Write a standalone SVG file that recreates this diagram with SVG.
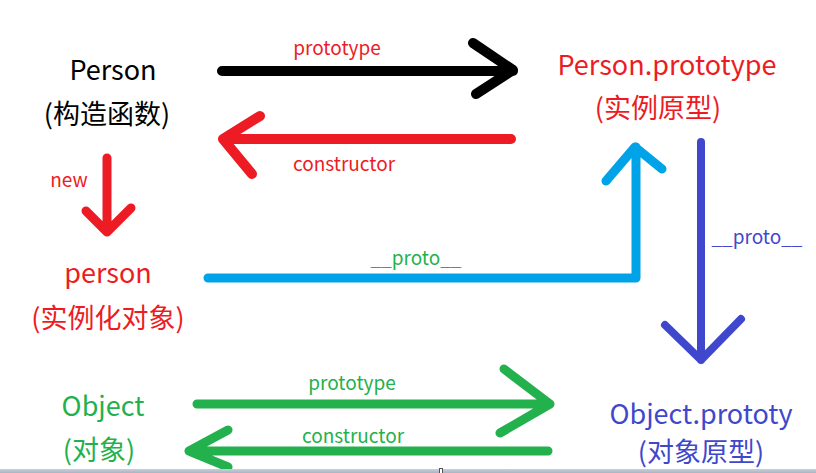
<svg xmlns="http://www.w3.org/2000/svg" width="816" height="473" viewBox="0 0 816 473">
<defs>
<linearGradient id="bar" x1="0" y1="0" x2="0" y2="1">
<stop offset="0" stop-color="#c9d0dc"/>
<stop offset="1" stop-color="#aab3c4"/>
</linearGradient>
</defs>
<style>
text{font-family:"Microsoft YaHei","Noto Sans CJK SC","Noto Sans",sans-serif;text-anchor:middle}
.big{font-size:27px}
.sm{font-size:19px}
.k{fill:#000}
.r{fill:#ed1c24}
.g{fill:#22b14c}
.b{fill:#3f48cc}
.ln{fill:none;stroke-linecap:round;stroke-linejoin:round}
</style>
<rect width="816" height="473" fill="#fff"/>
<g id="Person"><text class="big k" x="113" y="80">Person</text><text class="big k" x="107" y="124">(构造函数)</text></g>
<g id="PersonPrototype"><text class="big r" x="667" y="75">Person.prototype</text><text class="big r" x="658" y="118">(实例原型)</text></g>
<g id="person"><text class="big r" x="108" y="283">person</text><text class="big r" x="108" y="328">(实例化对象)</text></g>
<g id="Object"><text class="big g" x="103" y="416">Object</text><text class="big g" x="99" y="460">(对象)</text></g>
<g id="ObjectPrototype"><text class="big b" x="701" y="424">Object.prototy</text><text class="big b" x="701" y="462">(对象原型)</text></g>
<g id="connectors">
<path class="ln" stroke="#000" stroke-width="10" d="M222 71H513M473 43L513 70L476 94"/>
<path class="ln" stroke="#ed1c24" stroke-width="10" d="M511 139H223M260 116L223 139L252 174"/>
<path class="ln" stroke="#ed1c24" stroke-width="9" d="M107 158V232M86 211L107 232L131 208"/>
<path class="ln" stroke="#00a2e8" stroke-width="9" d="M208 278H636V147M606 181L635 147L662 169"/>
<path class="ln" stroke="#3f48cc" stroke-width="8" d="M701 142V360M665 325L701 360L741 319"/>
<path class="ln" stroke="#22b14c" stroke-width="9" d="M197 404H550M504 369L550 404L500 433"/>
<path class="ln" stroke="#22b14c" stroke-width="9" d="M548 451H189M228 430L189 451L228 467"/>
<text class="sm r" x="337" y="55">prototype</text>
<text class="sm r" x="344" y="171">constructor</text>
<text class="sm r" x="69" y="187">new</text>
<text class="sm g" x="416" y="265">__proto__</text>
<text class="sm b" x="757" y="244">__proto__</text>
<text class="sm g" x="352" y="390">prototype</text>
<text class="sm g" x="353" y="443">constructor</text>
</g>
<rect x="0" y="469" width="816" height="4" fill="url(#bar)"/>
<rect x="439.5" y="468.5" width="3" height="5" fill="#fff" stroke="#555" stroke-width="1"/>
</svg>
